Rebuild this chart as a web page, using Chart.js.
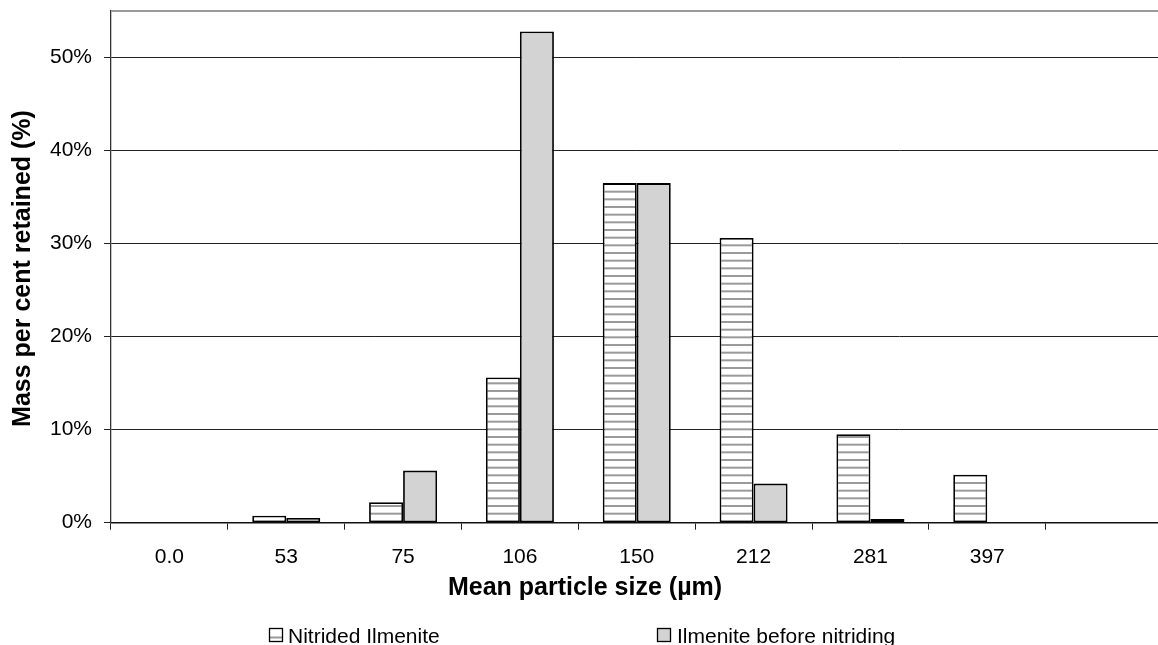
<!DOCTYPE html>
<html>
<head>
<meta charset="utf-8">
<script src="https://cdn.jsdelivr.net/npm/chart.js@4.4.1/dist/chart.umd.min.js"></script>
<style>
  html, body { margin: 0; padding: 0; background: #fff; overflow: hidden; width: 1158px; height: 645px; }
  #wrap { position: absolute; left: 0; top: 0; width: 1170px; height: 645px; }
</style>
</head>
<body>
<div id="wrap"><canvas id="c" width="1170" height="645"></canvas></div>
<script>
const categories = ['0.0', '53', '75', '106', '150', '212', '281', '397', ''];
const nitrided = [0, 0.75, 2.2, 15.6, 36.5, 30.6, 9.5, 5.15, 0];
const beforeNitriding = [0, 0.5, 5.6, 52.8, 36.5, 4.2, 0.4, 0, 0];
const yTickValues = [0, 10, 20, 30, 40, 50];
const seriesNames = ['Nitrided Ilmenite', 'Ilmenite before nitriding'];
const xTitle = 'Mean particle size (\u00b5m)';
const yTitle = 'Mass per cent retained (%)';

const FONT = '"Liberation Sans", Arial, sans-serif';
Chart.defaults.font.family = FONT;
Chart.defaults.font.size = 21;
Chart.defaults.color = '#000';

function makeStripes() {
  const p = document.createElement('canvas');
  p.width = 8; p.height = 23;
  const g = p.getContext('2d');
  g.fillStyle = '#ffffff';
  g.fillRect(0, 0, 8, 23);
  g.fillStyle = '#9a9a9a';
  [0, 7.67, 15.33].forEach(y => g.fillRect(0, y - 1, 8, 2));
  g.fillRect(0, 22, 8, 1);
  return g.createPattern(p, 'repeat');
}
const stripes = makeStripes();
const grayFill = '#d3d3d3';

const overlay = {
  id: 'overlay',
  beforeDatasetsDraw(chart) {
    const { ctx, chartArea } = chart;
    ctx.save();
    ctx.strokeStyle = '#9a9a9a';
    ctx.lineWidth = 2;
    ctx.beginPath();
    ctx.moveTo(chartArea.left, chartArea.top);
    ctx.lineTo(chartArea.right, chartArea.top);
    ctx.stroke();
    ctx.restore();
  },
  afterDraw(chart) {
    const { ctx } = chart;
    ctx.save();
    ctx.fillStyle = '#000';
    // x title
    ctx.font = 'bold 25px ' + FONT;
    ctx.textAlign = 'center';
    ctx.textBaseline = 'alphabetic';
    ctx.fillText(xTitle, 585, 595);
    // y title
    ctx.save();
    ctx.translate(30, 268.5);
    ctx.rotate(-Math.PI / 2);
    ctx.fillText(yTitle, 0, 0);
    ctx.restore();
    // legend
    ctx.font = '21px ' + FONT;
    ctx.textAlign = 'left';
    const items = [
      { x: 269, tx: 288, fill: 'stripe' },
      { x: 657, tx: 677, fill: grayFill }
    ];
    items.forEach((it, i) => {
      const bx = it.x + 0.5, by = 628.5, bw = 13, bh = 13;
      ctx.fillStyle = '#fff';
      if (it.fill !== 'stripe') ctx.fillStyle = it.fill;
      ctx.fillRect(bx, by, bw, bh);
      if (it.fill === 'stripe') {
        ctx.strokeStyle = '#9a9a9a';
        ctx.lineWidth = 2;
        ctx.beginPath();
        ctx.moveTo(bx, by + 9);
        ctx.lineTo(bx + bw, by + 9);
        ctx.stroke();
      }
      ctx.strokeStyle = '#000';
      ctx.lineWidth = 1.3;
      ctx.strokeRect(bx, by, bw, bh);
      ctx.fillStyle = '#000';
      ctx.fillText(seriesNames[i], it.tx, 643);
    });
    ctx.restore();
  }
};

new Chart(document.getElementById('c'), {
  type: 'bar',
  data: {
    labels: categories,
    datasets: [
      {
        label: seriesNames[0],
        data: nitrided,
        backgroundColor: stripes,
        borderColor: '#000',
        borderWidth: 1.8,
        borderSkipped: false,
        categoryPercentage: 0.582,
        barPercentage: 1.0
      },
      {
        label: seriesNames[1],
        data: beforeNitriding,
        backgroundColor: grayFill,
        borderColor: '#000',
        borderWidth: 1.8,
        borderSkipped: false,
        categoryPercentage: 0.582,
        barPercentage: 1.0
      }
    ]
  },
  options: {
    responsive: false,
    animation: false,
    devicePixelRatio: 1,
    layout: { padding: { left: 0, right: 7.5, top: 11, bottom: 0 } },
    plugins: {
      legend: { display: false },
      tooltip: { enabled: false },
      title: { display: false }
    },
    scales: {
      x: {
        offset: true,
        grid: {
          offset: true,
          drawOnChartArea: false,
          drawTicks: true,
          tickLength: 7,
          color: '#222',
          lineWidth: 1
        },
        border: { display: true, color: '#111', width: 1.5 },
        ticks: {
          padding: 15,
          maxRotation: 0,
          autoSkip: false,
          font: { size: 21 },
          color: '#000'
        },
        afterFit(scale) {
          scale.height = 122.3;
          scale.paddingLeft = 0; scale.paddingRight = 0;
        }
      },
      y: {
        min: 0,
        max: 55,
        afterBuildTicks(scale) { scale.ticks = yTickValues.map(v => ({ value: v })); },
        grid: {
          color: '#222',
          lineWidth: 1,
          tickLength: 7,
          drawTicks: true
        },
        border: { display: true, color: '#333', width: 1.3 },
        ticks: {
          padding: 12,
          font: { size: 21 },
          color: '#000',
          callback: v => v + '%'
        },
        afterFit(scale) {
          scale.width = 111;
          scale.paddingTop = 0; scale.paddingBottom = 0;
        }
      }
    }
  },
  plugins: [overlay]
});
</script>
</body>
</html>
